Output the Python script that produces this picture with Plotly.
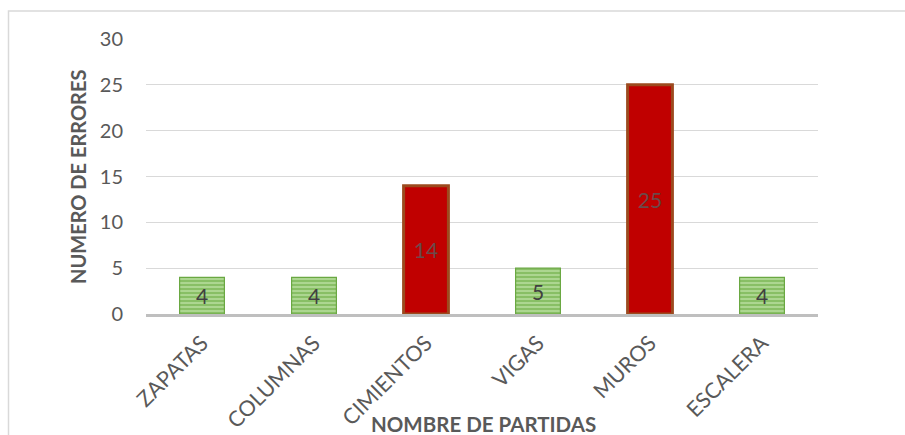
import plotly.graph_objects as go

# Error counts per construction item
partidas = ["ZAPATAS", "COLUMNAS", "CIMIENTOS", "VIGAS", "MUROS", "ESCALERA"]
errores = [4, 4, 14, 5, 25, 4]
criticas = [False, False, True, False, True, False]

y_ticks = [0, 5, 10, 15, 20, 25, 30]

FONT = "Lato, Open Sans, sans-serif"
GRAY = "#595959"

green_x = [p for p, c in zip(partidas, criticas) if not c]
green_y = [v for v, c in zip(errores, criticas) if not c]
red_x = [p for p, c in zip(partidas, criticas) if c]
red_y = [v for v, c in zip(errores, criticas) if c]

fig = go.Figure()

# Minor items: striped green bars
fig.add_trace(go.Bar(
    x=green_x, y=green_y, width=0.4,
    text=[str(v) for v in green_y], textposition="inside",
    insidetextanchor="middle",
    textfont=dict(family=FONT, size=21, color="#404040"),
    marker=dict(
        color="#a9d18e",
        line=dict(color="#6aa842", width=1.2),
        pattern=dict(shape="-", fgcolor="#64a83a", bgcolor="#acd690",
                     size=4, solidity=0.5, fillmode="overlay"),
    ),
    hoverinfo="x+y",
))

# Critical items: red bars
fig.add_trace(go.Bar(
    x=red_x, y=red_y, width=0.4,
    text=[str(v) for v in red_y], textposition="inside",
    insidetextanchor="middle",
    textfont=dict(family=FONT, size=21, color="#6b4a4a"),
    marker=dict(color="#c00000", line=dict(color="#9c4a1e", width=3)),
    hoverinfo="x+y",
))

fig.update_layout(
    width=905, height=435,
    margin=dict(l=146, r=87, t=39, b=121),
    paper_bgcolor="white", plot_bgcolor="white",
    showlegend=False, barmode="overlay",
    font=dict(family=FONT, color=GRAY),
    xaxis=dict(
        categoryorder="array", categoryarray=partidas,
        tickangle=-45, tickfont=dict(family=FONT, size=21.5, color=GRAY),
        showline=True, linecolor="#bfbfbf", linewidth=3,
        ticks="", showgrid=False, ticklabelstandoff=5, automargin=False,
    ),
    yaxis=dict(
        range=[0, 30], tickvals=y_ticks,
        tickfont=dict(family=FONT, size=20, color=GRAY),
        showgrid=True, gridcolor="#d9d9d9", gridwidth=1.3,
        zeroline=False, showline=False, ticks="",
        ticklabelstandoff=22, automargin=False,
    ),
    annotations=[
        dict(text="<b>NUMERO DE ERRORES</b>", xref="paper", yref="paper",
             x=(78 - 146) / 672, y=(314 - 177) / 275, textangle=-90,
             showarrow=False, xanchor="center", yanchor="middle",
             font=dict(family=FONT, size=20, color=GRAY)),
        dict(text="<b>NOMBRE DE PARTIDAS</b>", xref="paper", yref="paper",
             x=(483 - 146) / 672, y=(314 - 424) / 275,
             showarrow=False, xanchor="center", yanchor="middle",
             font=dict(family=FONT, size=20.5, color=GRAY)),
    ],
    shapes=[
        dict(type="rect", xref="paper", yref="paper",
             x0=(8.5 - 146) / 672, x1=1.3, y0=-0.6, y1=(314 - 11) / 275,
             line=dict(color="#d9d9d9", width=1.5), layer="below"),
    ],
)

fig.write_html("out.html")
